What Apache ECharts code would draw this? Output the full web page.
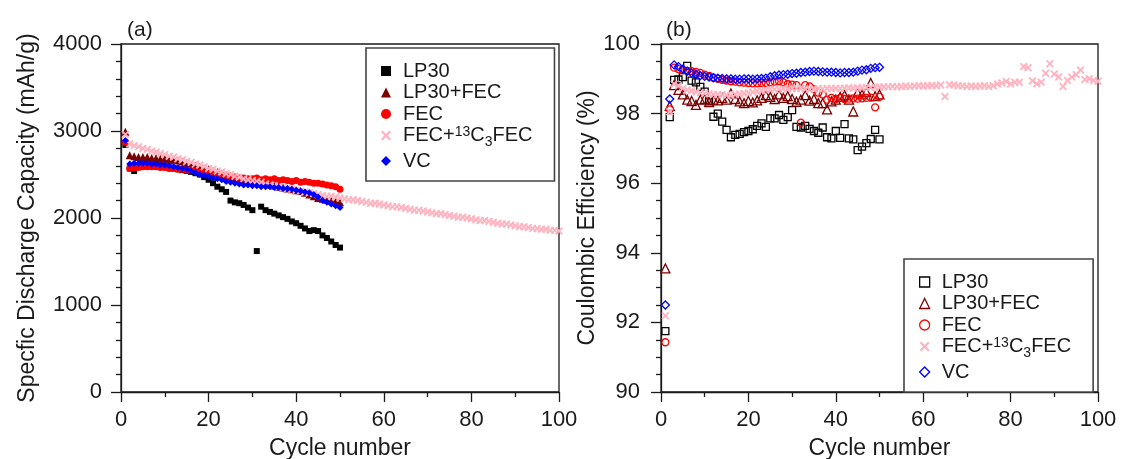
<!DOCTYPE html>
<html>
<head>
<meta charset="utf-8">
<script src="https://cdn.jsdelivr.net/npm/echarts@6/dist/echarts.min.js"></script>
<style>
  html, body { margin: 0; padding: 0; background: #fff; }
  #chart { width: 1121px; height: 459px; }
</style>
</head>
<body>
<div id="chart"></div>
<script>
// Series names (legend order)
const seriesNames = ['LP30', 'LP30+FEC', 'FEC', 'FEC+13C3FEC', 'VC'];

// (a) Specific discharge capacity, mAh/g, cycles 1..n
const capLP30 = [2840, 2570, 2540, 2600, 2620, 2620, 2620, 2610, 2600, 2590,
  2580, 2570, 2560, 2550, 2540, 2530, 2515, 2500, 2470, 2440,
  2400, 2360, 2330, 2300, 2200, 2180, 2170, 2150, 2120, 2090,
  1620, 2130, 2090, 2070, 2050, 2030, 2010, 1990, 1960, 1940,
  1910, 1880, 1850, 1860, 1850, 1800, 1770, 1730, 1690, 1660];
const capLP30FEC = [2990, 2720, 2710, 2700, 2700, 2700, 2690, 2690, 2680, 2680,
  2670, 2670, 2660, 2650, 2630, 2610, 2600, 2590, 2570, 2560,
  2540, 2530, 2510, 2490, 2480, 2460, 2450, 2440, 2430, 2420,
  2410, 2400, 2390, 2380, 2370, 2360, 2350, 2340, 2330, 2320,
  2310, 2290, 2270, 2250, 2230, 2220, 2210, 2200, 2190, 2180];
const capFEC = [2870, 2570, 2580, 2580, 2590, 2590, 2590, 2590, 2580, 2580,
  2570, 2570, 2560, 2560, 2550, 2550, 2540, 2530, 2520, 2520,
  2510, 2500, 2500, 2490, 2480, 2470, 2460, 2460, 2450, 2450,
  2460, 2440, 2450, 2440, 2450, 2430, 2440, 2430, 2420, 2430,
  2410, 2420, 2410, 2400, 2400, 2390, 2380, 2370, 2360, 2330];
const capFEC13C = [2960, 2850, 2830, 2820, 2800, 2790, 2770, 2760, 2740, 2730,
  2710, 2700, 2680, 2670, 2650, 2640, 2620, 2610, 2590, 2570,
  2560, 2540, 2530, 2510, 2500, 2480, 2470, 2450, 2440, 2430,
  2420, 2410, 2390, 2380, 2370, 2360, 2350, 2340, 2330, 2320,
  2310, 2300, 2290, 2280, 2270, 2260, 2250, 2250, 2240, 2230,
  2220, 2210, 2210, 2200, 2190, 2180, 2170, 2170, 2160, 2150,
  2140, 2130, 2130, 2120, 2110, 2100, 2090, 2090, 2080, 2070,
  2060, 2050, 2050, 2040, 2030, 2020, 2010, 2010, 2000, 1990,
  1980, 1970, 1970, 1960, 1950, 1940, 1930, 1930, 1920, 1910,
  1900, 1900, 1890, 1880, 1880, 1870, 1870, 1860, 1860, 1850];
const capVC = [2890, 2620, 2630, 2630, 2630, 2630, 2620, 2620, 2610, 2610,
  2600, 2590, 2580, 2570, 2560, 2540, 2520, 2500, 2490, 2480,
  2460, 2450, 2440, 2420, 2410, 2400, 2390, 2380, 2380, 2370,
  2370, 2360, 2360, 2360, 2350, 2350, 2340, 2340, 2330, 2320,
  2310, 2300, 2290, 2270, 2240, 2200, 2180, 2160, 2140, 2120];

// (b) Coulombic efficiency, %, cycles 1..n
const ceLP30 = [91.75, 97.90, 98.97, 98.98, 99.05, 99.37, 98.95, 98.90, 98.77, 98.63,
  98.35, 97.91, 98.00, 97.77, 97.53, 97.32, 97.39, 97.42, 97.47, 97.50,
  97.55, 97.65, 97.72, 97.62, 97.86, 97.86, 97.96, 97.82, 97.90, 98.10,
  97.62, 97.60, 97.65, 97.56, 97.50, 97.45, 97.60, 97.32, 97.29, 97.50,
  97.30, 97.70, 97.29, 97.26, 96.95, 97.05, 97.15, 97.27, 97.53, 97.26];
const ceLP30FEC = [93.55, 98.22, 98.82, 98.68, 98.55, 98.40, 98.36, 98.25, 98.40, 98.42,
  98.33, 98.40, 98.38, 98.45, 98.40, 98.58, 98.42, 98.35, 98.30, 98.36,
  98.32, 98.38, 98.45, 98.53, 98.48, 98.42, 98.55, 98.45, 98.50, 98.42,
  98.34, 98.40, 98.53, 98.37, 98.42, 98.30, 98.30, 98.12, 98.35, 98.40,
  98.48, 98.53, 98.40, 98.06, 98.60, 98.55, 98.62, 98.88, 98.50, 98.55];
const ceFEC = [91.43, 98.12, 99.32, 99.28, 99.25, 99.23, 99.22, 99.20, 99.17, 99.12,
  99.08, 99.03, 99.00, 98.97, 98.95, 98.93, 98.92, 98.90, 98.89, 98.88,
  98.87, 98.87, 98.88, 98.88, 98.90, 98.92, 98.93, 98.90, 98.85, 98.83,
  98.82, 97.74, 98.82, 98.78, 98.70, 98.60, 98.55, 98.40, 98.45, 98.42,
  98.45, 98.42, 98.43, 98.44, 98.43, 98.44, 98.45, 98.46, 98.18, 98.48];
const ceFEC13C = [92.19, 98.05, 98.85, 98.80, 98.72, 98.68, 98.66, 98.62, 98.60, 98.58,
  98.57, 98.55, 98.55, 98.54, 98.53, 98.53, 98.55, 98.56, 98.58, 98.60,
  98.62, 98.64, 98.66, 98.68, 98.69, 98.70, 98.70, 98.71, 98.71, 98.72,
  98.72, 98.72, 98.71, 98.70, 98.71, 98.72, 98.71, 98.72, 98.72, 98.73,
  98.72, 98.73, 98.74, 98.73, 98.74, 98.74, 98.75, 98.75, 98.76, 98.76,
  98.77, 98.77, 98.78, 98.77, 98.78, 98.79, 98.78, 98.79, 98.80, 98.79,
  98.80, 98.81, 98.80, 98.82, 98.49, 98.83, 98.82, 98.80, 98.79, 98.78,
  98.79, 98.78, 98.79, 98.80, 98.78, 98.80, 98.85, 98.88, 98.92, 98.85,
  98.90, 98.90, 99.35, 99.32, 98.94, 98.86, 98.90, 99.16, 99.43, 99.14,
  99.05, 98.78, 98.95, 99.05, 99.12, 99.25, 98.98, 99.00, 98.95, 98.93];
const ceVC = [92.50, 98.42, 99.40, 99.35, 99.28, 99.22, 99.17, 99.13, 99.09, 99.07,
  99.05, 99.03, 99.02, 99.01, 99.00, 99.00, 98.99, 98.99, 99.00, 99.00,
  98.99, 99.00, 99.01, 99.02, 99.06, 99.09, 99.11, 99.12, 99.13, 99.15,
  99.16, 99.18, 99.19, 99.21, 99.22, 99.21, 99.20, 99.19, 99.19, 99.18,
  99.17, 99.18, 99.18, 99.19, 99.22, 99.25, 99.26, 99.30, 99.32, 99.33];

const FONT = '"Liberation Sans", Arial, Helvetica, sans-serif';
const INK = '#1a1a1a';
const colors = ['#000000', '#7d0000', '#ff0000', '#ffb3c0', '#0000ff'];
// thick "x" marker as a filled outline
const CROSS = 'path://M0,1.6 L1.6,0 L5,3.4 L8.4,0 L10,1.6 L6.6,5 L10,8.4 L8.4,10 L5,6.6 L1.6,10 L0,8.4 L3.4,5 Z';

const capSets = [capLP30, capLP30FEC, capFEC, capFEC13C, capVC];
const ceSets = [ceLP30, ceLP30FEC, ceFEC, ceFEC13C, ceVC];

const markerSymbols = ['rect', 'triangle', 'circle', CROSS, 'diamond'];
const filledSizes = [6, 8, 7, 8, 7];
const hollowSizes = [7, 9, 7, 8, 8];

const toPoints = arr => arr.map((v, i) => [i + 1, v]);

const series = [];
seriesNames.forEach((name, k) => {
  series.push({
    name, type: 'scatter', xAxisIndex: 0, yAxisIndex: 0,
    data: toPoints(capSets[k]),
    symbol: markerSymbols[k], symbolSize: filledSizes[k],
    itemStyle: { color: colors[k], opacity: 1 },
    z: 2 + k
  });
});
seriesNames.forEach((name, k) => {
  const isCross = k === 3;
  series.push({
    name, type: 'scatter', xAxisIndex: 1, yAxisIndex: 1,
    data: toPoints(ceSets[k]),
    symbol: markerSymbols[k], symbolSize: hollowSizes[k],
    itemStyle: isCross
      ? { color: colors[k], opacity: 1 }
      : { color: 'rgba(0,0,0,0)', borderColor: colors[k], borderWidth: 1.3, opacity: 1 },
    z: 2 + k
  });
});

function legendData(hollow) {
  return seriesNames.map((name, k) => {
    const isCross = k === 3;
    let itemStyle;
    if (!hollow || isCross) itemStyle = { color: colors[k], borderWidth: 0 };
    else itemStyle = { color: 'rgba(0,0,0,0)', borderColor: colors[k], borderWidth: 1.3 };
    return { name, icon: markerSymbols[k], itemStyle };
  });
}

const legendText = {
  fontFamily: FONT, fontSize: 20, lineHeight: 20, color: INK,
  rich: {
    g: { width: 7, lineHeight: 20 },
    t: { fontFamily: FONT, fontSize: 20, lineHeight: 20, color: INK },
    sup: { fontFamily: FONT, fontSize: 14, lineHeight: 20, color: INK, verticalAlign: 'top' },
    sub: { fontFamily: FONT, fontSize: 14, lineHeight: 20, color: INK, verticalAlign: 'top', padding: [10, 0, 0, 0] }
  }
};
const legendFormatter = name =>
  name === 'FEC+13C3FEC'
    ? '{g|}{t|FEC+}{sup|13}{t|C}{sub|3}{t|FEC}'
    : '{g|}{t|' + name + '}';

function makeLegend(left, top, hollow) {
  return {
    orient: 'vertical', left, top,
    data: legendData(hollow),
    itemWidth: 10, itemHeight: 10, itemGap: 1.5,
    padding: [13, 22, 10, 15],
    borderColor: '#444', borderWidth: 1.6,
    backgroundColor: '#fff',
    textStyle: legendText,
    formatter: legendFormatter,
    selectedMode: false
  };
}

const axisLineStyle = { color: INK, width: 1.3 };
const labelStyle = { fontFamily: FONT, fontSize: 22, color: INK };
const nameStyle = { fontFamily: FONT, fontSize: 23, color: INK };

function xAxisFor(gridIndex) {
  return {
    type: 'value', gridIndex, min: 0, max: 100, interval: 20,
    name: 'Cycle number', nameLocation: 'middle', nameGap: 45, nameTextStyle: nameStyle,
    axisLine: { show: true, lineStyle: axisLineStyle },
    axisTick: { show: true, inside: false, length: 10, lineStyle: axisLineStyle },
    minorTick: { show: true, splitNumber: 2, length: 5, lineStyle: axisLineStyle },
    axisLabel: { ...labelStyle, margin: 17 },
    splitLine: { show: false }
  };
}

const plainNumber = v => String(v);

const gridBase = {
  top: 44, height: 348, show: true, borderColor: INK, borderWidth: 1.3,
  containLabel: false, outerBoundsMode: 'none'
};

const option = {
  animation: false,
  backgroundColor: '#fff',
  grid: [
    { ...gridBase, left: 121, width: 438 },
    { ...gridBase, left: 661, width: 437 }
  ],
  xAxis: [xAxisFor(0), xAxisFor(1)],
  yAxis: [
    {
      type: 'value', gridIndex: 0, min: 0, max: 4000, interval: 1000,
      name: 'Specfic Discharge Capacity (mAh/g)', nameLocation: 'middle', nameGap: 82,
      nameTextStyle: nameStyle,
      axisLine: { show: true, lineStyle: axisLineStyle },
      axisTick: { show: true, length: 10, lineStyle: axisLineStyle },
      minorTick: { show: true, splitNumber: 5, length: 5, lineStyle: axisLineStyle },
      axisLabel: { ...labelStyle, margin: 19, formatter: plainNumber },
      splitLine: { show: false }
    },
    {
      type: 'value', gridIndex: 1, min: 90, max: 100, interval: 2,
      name: 'Coulombic Efficiency (%)', nameLocation: 'middle', nameGap: 57,
      nameTextStyle: nameStyle,
      axisLine: { show: true, lineStyle: axisLineStyle },
      axisTick: { show: true, length: 10, lineStyle: axisLineStyle },
      minorTick: { show: true, splitNumber: 4, length: 5, lineStyle: axisLineStyle },
      axisLabel: { ...labelStyle, margin: 21, formatter: plainNumber },
      splitLine: { show: false }
    }
  ],
  legend: [makeLegend(366, 48, false), makeLegend(904, 259, true)],
  graphic: [
    { type: 'text', left: 127, top: 20, style: { text: '(a)', font: '21px ' + FONT, fill: INK } },
    { type: 'text', left: 666, top: 20, style: { text: '(b)', font: '21px ' + FONT, fill: INK } }
  ],
  series
};

const chart = echarts.init(document.getElementById('chart'), null, { renderer: 'canvas' });
chart.setOption(option);
</script>
</body>
</html>
